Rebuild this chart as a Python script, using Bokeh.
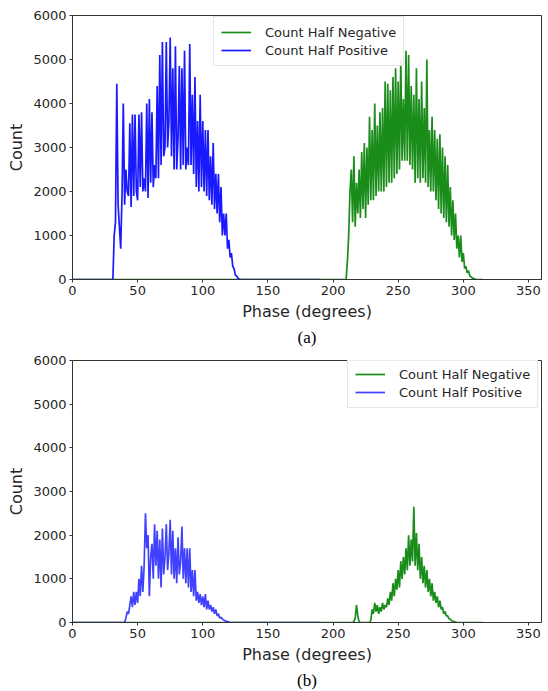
import numpy as np
from bokeh.plotting import figure
from bokeh.layouts import column
from bokeh.models import FixedTicker, Legend, LegendItem, Title, Range1d
from bokeh.embed import file_html
from bokeh.resources import INLINE

# ---------------- data ----------------
x_ticks = [0, 50, 100, 150, 200, 250, 300, 350]
y_ticks = [0, 1000, 2000, 3000, 4000, 5000, 6000]

# (a) Count Half Positive, 1-degree samples starting at 31 deg
pos_a_start = 31
pos_a_counts = [0, 1000, 1300, 4450, 1700, 1200, 700, 1900, 4000, 1700,
                2500, 2000, 1900, 3550, 1650, 3750, 1900, 3750, 2000, 1800,
                3750, 2100, 3800, 2000, 2300, 2000, 4000, 1850, 4100, 2200,
                3800, 2100, 2600, 2300, 4400, 2300, 5100, 2600, 5400, 2800,
                3000, 5400, 3000, 3600, 5500, 2800, 4800, 2500, 5300, 2500,
                3200, 4850, 2500, 4800, 2600, 5200, 2500, 3000, 2600, 5350,
                2600, 4200, 2400, 4600, 2100, 3600, 2000, 4200, 2100, 3600,
                2000, 3400, 1900, 3400, 1800, 2800, 1700, 3100, 1600, 2400,
                1500, 2400, 1300, 2100, 1000, 1500, 1000, 1500, 700, 900,
                500, 600, 300, 250, 100, 80, 30, 10, 0]
pos_a_end = 190

# (a) Count Half Negative, 1-degree samples starting at 210 deg
neg_a_start = 210
neg_a_counts = [0, 400, 1000, 2000, 2500, 1300, 2800, 1200, 2200, 1500,
                2500, 1400, 2900, 1600, 3100, 1400, 3000, 1700, 3700, 1800,
                3400, 1800, 4000, 1900, 3500, 2000, 3800, 2000, 3900, 2000,
                4500, 2100, 4450, 2200, 4300, 2200, 4600, 2300, 4800, 2400,
                4500, 2500, 5000, 2700, 4100, 2700, 5200, 2700, 5100, 2600,
                4400, 2500, 4200, 2200, 4800, 2300, 4100, 2200, 4500, 2300,
                3900, 2200, 5000, 2100, 3400, 2000, 3700, 2000, 3400, 1800,
                3200, 1600, 3300, 1500, 3000, 1400, 2800, 1300, 2600, 1200,
                2100, 1000, 1800, 900, 1500, 700, 1000, 500, 1000, 400,
                600, 250, 300, 150, 200, 80, 60, 30, 20, 10, 0]
neg_a_end = 315

# (b) Count Half Positive, 1-degree samples starting at 40 deg
pos_b_start = 40
pos_b_counts = [0, 100, 250, 200, 400, 600, 350, 700, 400, 700,
                450, 1000, 600, 1300, 700, 1300, 2500, 1700, 2000, 600,
                1500, 1800, 1000, 2250, 1300, 2100, 1000, 1900, 800, 2150,
                1100, 1500, 2250, 1200, 1600, 2350, 1100, 2100, 1000, 1700,
                900, 1950, 1100, 1400, 2200, 1000, 1700, 900, 1700, 800,
                1700, 700, 1200, 600, 1200, 500, 700, 450, 650, 400,
                600, 350, 650, 300, 500, 300, 400, 250, 350, 200,
                300, 150, 200, 100, 120, 80, 60, 40, 30, 20, 10, 0]
pos_b_end = 190

# (b) Count Half Negative, 1-degree samples starting at 215 deg
neg_b_start = 215
neg_b_counts = [0, 20, 100, 400, 150, 20, 0, 0, 0, 0,
                0, 0, 0, 0, 50, 300, 200, 450, 250, 400,
                200, 350, 250, 450, 300, 400, 350, 550, 400, 700,
                500, 900, 600, 1000, 750, 1200, 800, 1400, 1000, 1500,
                1100, 1700, 1200, 2000, 1300, 1900, 1400, 2650, 1300, 2050,
                1200, 1800, 1000, 1500, 900, 1300, 800, 1200, 700, 1000,
                600, 900, 500, 700, 450, 600, 350, 500, 300, 350,
                200, 250, 150, 150, 80, 80, 40, 30, 20, 10, 0]
neg_b_end = 315

GREEN = "#008000"
BLUE = "#0000ff"


def series(start, counts, end):
    xs = [0] + list(range(start, start + len(counts))) + [end]
    ys = [0] + list(counts) + [0]
    return xs, ys


def make_fig(height, top, bottom, caption, pos, neg, legend_loc, blue_alpha):
    p = figure(width=542, height=height, output_backend="svg",
               toolbar_location=None, x_range=Range1d(0, 360),
               y_range=Range1d(0, 6000), min_border_left=72,
               min_border_right=1, min_border_top=top,
               min_border_bottom=bottom)
    p.grid.visible = False
    p.outline_line_color = "#333333"
    p.outline_line_width = 1
    p.background_fill_color = "white"
    p.border_fill_color = "white"

    nx, ny = series(*neg)
    px, py = series(*pos)
    rn = p.line(nx, ny, line_color=GREEN, line_width=1.7, line_alpha=0.9)
    rp = p.line(px, py, line_color=BLUE, line_width=1.7, line_alpha=blue_alpha)

    for ax in (p.xaxis[0], p.yaxis[0]):
        ax.axis_line_color = "#333333"
        ax.major_tick_line_color = "#333333"
        ax.major_tick_out = 3
        ax.major_tick_in = 0
        ax.minor_tick_line_color = None
        ax.major_label_text_font = "DejaVu Sans"
        ax.major_label_text_font_size = "13px"
        ax.major_label_text_color = "#262626"
        ax.major_label_standoff = 3
        ax.axis_label_text_font = "DejaVu Sans"
        ax.axis_label_text_font_size = "16px"
        ax.axis_label_text_font_style = "normal"
        ax.axis_label_text_color = "#262626"
        ax.axis_label_standoff = 4
    p.xaxis[0].ticker = FixedTicker(ticks=x_ticks)
    p.yaxis[0].ticker = FixedTicker(ticks=y_ticks)
    p.xaxis[0].axis_label = "Phase (degrees)"
    p.yaxis[0].axis_label = "Count"

    legend = Legend(items=[LegendItem(label="Count Half Negative", renderers=[rn]),
                           LegendItem(label="Count Half Positive", renderers=[rp])],
                    location=legend_loc)
    legend.label_text_font = "DejaVu Sans"
    legend.label_text_font_size = "13px"
    legend.label_text_color = "#262626"
    legend.glyph_width = 30
    legend.glyph_height = 16
    legend.label_height = 16
    legend.label_standoff = 14
    legend.padding = 7
    legend.spacing = 2
    legend.margin = 0
    legend.border_line_color = "#cccccc"
    legend.border_line_width = 1
    legend.background_fill_alpha = 0.9
    p.add_layout(legend)

    cap = Title(text=caption, align="center", text_font="Liberation Serif",
                text_font_size="17px", text_font_style="normal",
                text_color="black", standoff=4)
    p.add_layout(cap, "below")
    return p


pa = make_fig(348, 15, 67, "(a)",
              (pos_a_start, pos_a_counts, pos_a_end),
              (neg_a_start, neg_a_counts, neg_a_end),
              (141, 213), 0.9)
pb = make_fig(343, 12, 67, "(b)",
              (pos_b_start, pos_b_counts, pos_b_end),
              (neg_b_start, neg_b_counts, neg_b_end),
              (275, 214), 0.75)

layout = column(pa, pb, spacing=0)
open("out.html", "w").write(file_html(layout, INLINE))
